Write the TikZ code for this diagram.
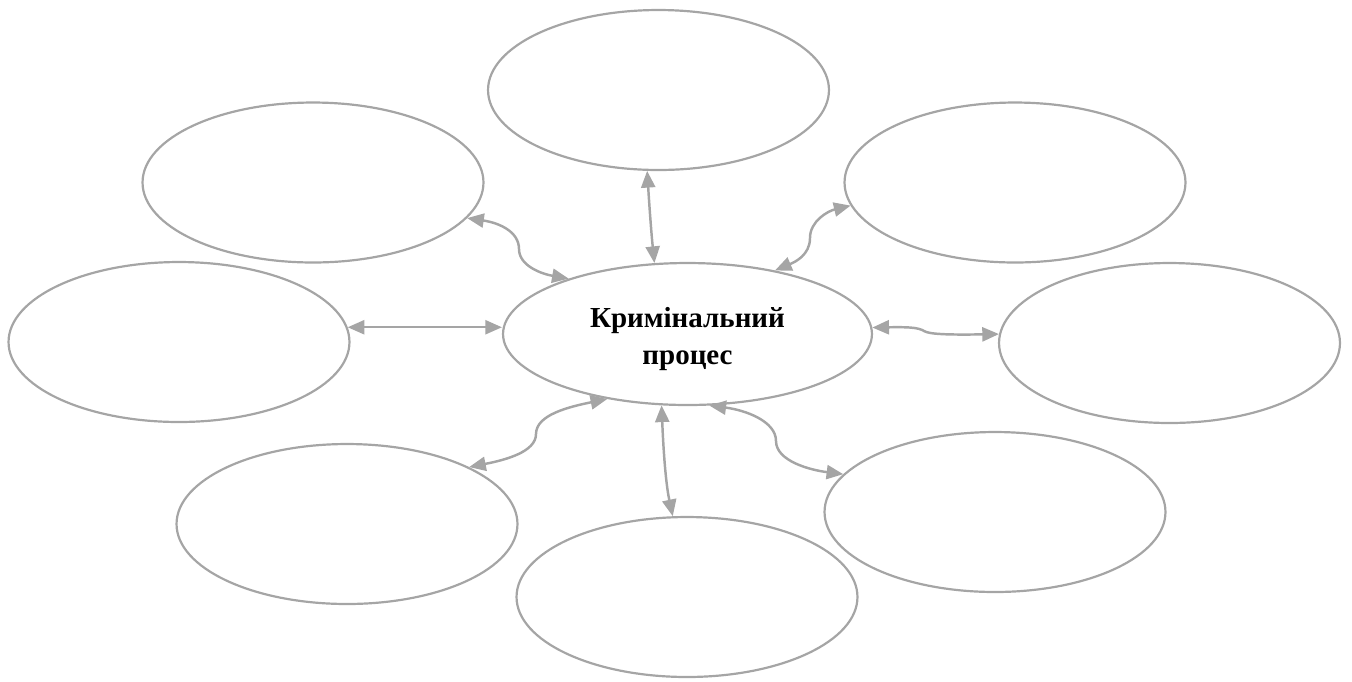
\documentclass[tikz,border=0pt]{standalone}
\usepackage{fontspec}
\setmainfont{Liberation Serif}
\usetikzlibrary{shapes.geometric,arrows.meta}
\definecolor{linegray}{HTML}{A5A5A5}
\tikzset{
  bubble/.style={draw=linegray, line width=1.25pt, ellipse, inner sep=0pt,
    minimum width=6.82cm, minimum height=3.2cm},
  hub/.style={bubble, minimum width=7.38cm, minimum height=2.84cm,
    font=\bfseries\fontsize{16.5}{21}\selectfont},
  link/.style={draw=linegray, line width=1.4pt,
    {Triangle[length=9.5pt,width=8pt]}-{Triangle[length=9.5pt,width=8pt]}}
}
\begin{document}
\begin{tikzpicture}[x=0.02cm,y=-0.02cm]
\useasboundingbox (0,0) rectangle (1352,681);
\node[hub] (c) at (687.5,334) {\raisebox{-2.8pt}[\height][\depth]{\begin{tabular}{@{}c@{}}Кримінальний\\процес\end{tabular}}};
\node[bubble] (top) at (658.5,90) {};
\node[bubble] (tl) at (313,182.5) {};
\node[bubble] (tr) at (1015,182.5) {};
\node[bubble] (lft) at (179,342) {};
\node[bubble] (rt) at (1169.5,343) {};
\node[bubble] (bl) at (347,524) {};
\node[bubble] (b) at (687,597) {};
\node[bubble] (br) at (995,512) {};
\coordinate (mtl) at (519,249);
\coordinate (mtr) at (810,238);
\coordinate (mrt) at (924,331);
\coordinate (mbl) at (536,434);
\coordinate (mbr) at (776,441);
% connectors
\draw[link] (c.115.3) .. controls (651,230) and (649,200) .. (top.262.7);
\draw[link] (tl.347.7) .. controls (500,223) and (519,232) .. (mtl)
  .. controls (519,266) and (542,274) .. (c.155.7);
\draw[link] (c.36.8) .. controls (795,262) and (810,255) .. (mtr)
  .. controls (810,221) and (828,211) .. (tr.188.4);
\draw[link] (lft.5) -- (lft.5 -| c.west);
\draw[link] (c.2.1) .. controls (905,327) and (918,327) .. (mrt)
  .. controls (929,334) and (945,335) .. (rt.177.7);
\draw[link] (c.219.4) .. controls (568,407) and (536,415) .. (mbl)
  .. controls (536,452) and (505,460) .. (bl.25.6);
\draw[link] (c.250) .. controls (663,440) and (665,480) .. (b.100);
\draw[link] (c.287) .. controls (745,410) and (776,421) .. (mbr)
  .. controls (776,461) and (810,470) .. (br.166.3);
\end{tikzpicture}
\end{document}
